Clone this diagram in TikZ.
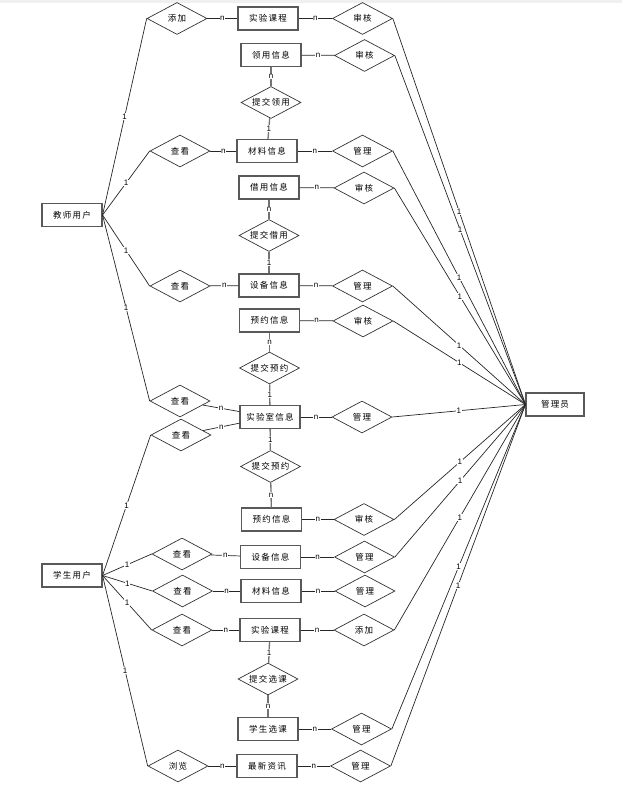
\documentclass[tikz,border=0pt]{standalone}
\usepackage{fontspec}
\setmainfont{Liberation Sans}
\newfontfamily\cjk[LetterSpace=14]{Noto Sans CJK SC}
\usetikzlibrary{shapes.geometric}
\newcommand\zw[1]{\makebox[0pt]{#1}}
\begin{document}
\begin{tikzpicture}[x=1pt,y=-1pt,
  ent/.style={draw=black!65, line width=1.1pt, minimum width=60pt, minimum height=23pt, inner sep=0pt, font=\cjk\fontsize{8.5}{9}\selectfont},
  rel/.style={diamond, draw=black!80, line width=0.7pt, minimum width=60pt, minimum height=32pt, inner sep=0pt, font=\cjk\fontsize{8.5}{9}\selectfont},
  lk/.style={draw=black!85, line width=0.7pt},
  vk/.style={draw=black!55, line width=1.3pt},
  lb/.style={midway, fill=white, inner sep=0.6pt, font=\fontsize{8}{8}\selectfont}
]
\useasboundingbox (0,0) rectangle (622,786);
\fill[black!6] (0,0) rectangle (622,3);

% main entities
\node[ent] (T) at (72,215) {教师用户};
\node[ent] (S) at (72,575.5) {学生用户};
\node[ent, minimum width=58pt] (A) at (555,404.5) {管理员};

% teacher block
\node[rel] (r1a) at (177,18.5) {\zw{添加}};
\node[ent] (e1) at (268,18.5) {实验课程};
\node[rel] (r1b) at (362.5,18.5) {\zw{审核}};

\node[ent] (e2) at (271,55) {领用信息};
\node[rel] (r2b) at (364.5,55.5) {\zw{审核}};
\node[rel] (r2s) at (271,102.5) {\zw{提交领用}};

\node[rel] (r3a) at (180,151) {\zw{查看}};
\node[ent] (e3) at (267,151) {材料信息};
\node[rel] (r3b) at (362.5,151) {\zw{管理}};

\node[ent] (e4) at (269,187.5) {借用信息};
\node[rel] (r4b) at (364,188) {\zw{审核}};
\node[rel] (r4s) at (269,235.5) {\zw{提交借用}};

\node[rel] (r5a) at (180,286) {\zw{查看}};
\node[ent] (e5) at (269,285.5) {设备信息};
\node[rel] (r5b) at (362.5,286) {\zw{管理}};

\node[ent] (e6) at (269.5,320.5) {预约信息};
\node[rel] (r6b) at (363,321) {\zw{审核}};
\node[rel] (r6s) at (269.5,368) {\zw{提交预约}};

\node[rel] (r7a) at (180,401) {\zw{查看}};
\node[ent] (e7) at (270,417) {实验室信息};
\node[rel] (r7b) at (362,417) {\zw{管理}};

% student block
\node[rel] (r8a) at (181,435) {\zw{查看}};
\node[rel] (r8s) at (270.5,466.5) {\zw{提交预约}};
\node[ent] (e8) at (271.5,519.5) {预约信息};
\node[rel] (r8b) at (364,519.5) {\zw{审核}};

\node[rel] (r9a) at (182,554) {\zw{查看}};
\node[ent] (e9) at (270.5,557) {设备信息};
\node[rel] (r9b) at (364.5,557) {\zw{管理}};

\node[rel] (r10a) at (182.5,591) {\zw{查看}};
\node[ent] (e10) at (271,591) {材料信息};
\node[rel] (r10b) at (365,591) {\zw{管理}};

\node[rel] (r11a) at (182,630) {\zw{查看}};
\node[ent] (e11) at (270,630) {实验课程};
\node[rel] (r11b) at (364,630) {\zw{添加}};
\node[rel] (r11s) at (268,679) {\zw{提交选课}};

\node[ent] (e12) at (268,729) {学生选课};
\node[rel] (r12b) at (361.5,729) {\zw{管理}};

\node[rel] (r13a) at (178,766) {\zw{浏览}};
\node[ent] (e13) at (267,766) {最新资讯};
\node[rel] (r13b) at (360.5,766) {\zw{管理}};

% horizontal connectors
\foreach \a/\b in {r1a/e1, e1/r1b, e2/r2b, r3a/e3, e3/r3b, e4/r4b, r5a/e5, e5/r5b, e6/r6b,
  r7a/e7, r8a/e7, e7/r7b, e8/r8b, r9a/e9, e9/r9b, r10a/e10, e10/r10b, r11a/e11, e11/r11b,
  e12/r12b, r13a/e13, e13/r13b}
  \draw[lk] (\a) -- (\b) node[lb]{n};

% vertical connectors
\draw[vk] (e2) -- (r2s) node[lb]{n};
\draw[vk] (r2s) -- (e3) node[lb]{1};
\draw[vk] (e4) -- (r4s) node[lb]{n};
\draw[vk] (r4s) -- (e5) node[lb]{1};
\draw[vk] (e6) -- (r6s) node[lb]{n};
\draw[vk] (r6s) -- (e7) node[lb]{1};
\draw[vk] (e7) -- (r8s) node[lb]{1};
\draw[vk] (r8s) -- (e8) node[lb]{n};
\draw[vk] (e11) -- (r11s) node[lb]{1};
\draw[vk] (r11s) -- (e12) node[lb]{n};

% teacher links
\foreach \r in {r1a, r3a, r5a, r7a}
  \draw[lk] (T.east) -- (\r.west) node[lb]{1};
% student links
\foreach \r in {r8a, r9a, r10a, r11a, r13a}
  \draw[lk] (S.east) -- (\r.west) node[lb]{1};
% admin links
\foreach \r in {r1b, r2b, r3b, r4b, r5b, r6b, r7b, r8b, r9b, r11b, r12b, r13b}
  \draw[lk] (\r.east) -- (A.west) node[lb]{1};
\end{tikzpicture}
\end{document}
